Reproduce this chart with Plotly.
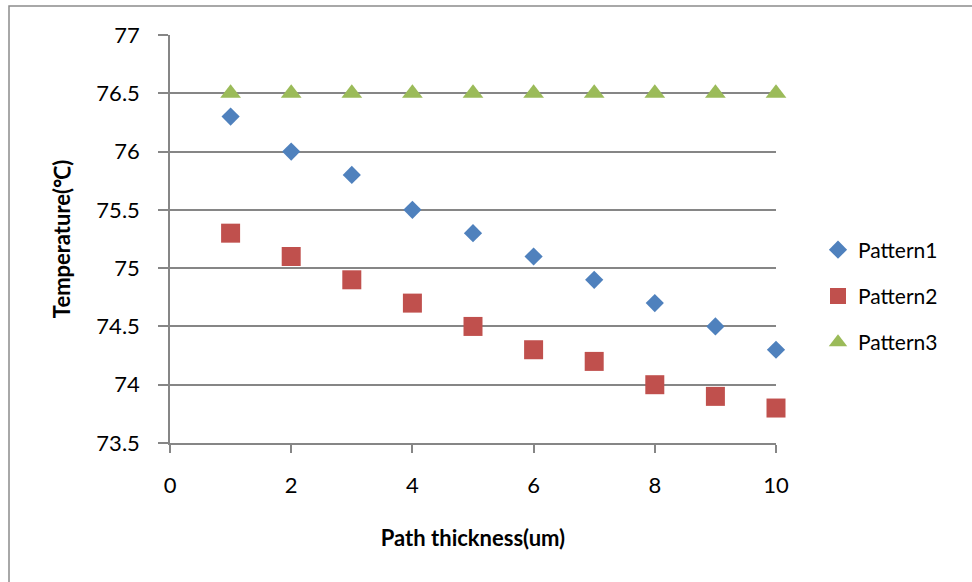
import plotly.graph_objects as go

x_vals = [1, 2, 3, 4, 5, 6, 7, 8, 9, 10]
pattern1 = [76.3, 76.0, 75.8, 75.5, 75.3, 75.1, 74.9, 74.7, 74.5, 74.3]
pattern2 = [75.3, 75.1, 74.9, 74.7, 74.5, 74.3, 74.2, 74.0, 73.9, 73.8]
pattern3 = [76.5, 76.5, 76.5, 76.5, 76.5, 76.5, 76.5, 76.5, 76.5, 76.5]
series_names = ["Pattern1", "Pattern2", "Pattern3"]
x_ticks = [0, 2, 4, 6, 8, 10]
y_ticks = [73.5, 74, 74.5, 75, 75.5, 76, 76.5, 77]
y_tick_labels = ["73.5", "74", "74.5", "75", "75.5", "76", "76.5", "77"]

W, H = 972, 582
L, R, T, B = 170, 196, 35, 139
FONT = "Lato, 'Open Sans', sans-serif"

fig = go.Figure()
styles = [
    dict(symbol="diamond", color="#4F81BD", size=14),
    dict(symbol="square", color="#C0504D", size=19),
    dict(symbol="triangle-up", color="#9BBB59", size=18),
]
for name, ys, st in zip(series_names, [pattern1, pattern2, pattern3], styles):
    fig.add_trace(go.Scatter(
        x=x_vals, y=ys, mode="markers", name=name, legendgroup=name,
        cliponaxis=False,
        marker=dict(symbol=st["symbol"], color=st["color"], size=st["size"],
                    line=dict(width=0)),
    ))

pw = W - L - R
ph = H - T - B
# outer chart border (left and top edges visible)
fig.add_shape(type="rect", xref="paper", yref="paper",
              x0=(9 - L) / pw, x1=(990 - L) / pw,
              y0=-(600 - (H - B)) / ph, y1=1 + (T - 6) / ph,
              line=dict(color="#8c8c8c", width=1.5), fillcolor="rgba(0,0,0,0)",
              layer="below")

fig.update_layout(
    width=W, height=H,
    margin=dict(l=L, r=R, t=T, b=B),
    paper_bgcolor="white", plot_bgcolor="white",
    font=dict(family=FONT, color="#000000", size=22),
    showlegend=True,
    legend=dict(x=1 + (818 - (W - R)) / pw, y=1 - (296 - T) / ph,
                xanchor="left", yanchor="middle",
                font=dict(size=21, family=FONT), itemsizing="trace",
                tracegroupgap=16, bgcolor="rgba(0,0,0,0)", itemwidth=30),
)
fig.update_xaxes(
    range=[0, 10], tickvals=x_ticks, showgrid=False, zeroline=False,
    showline=True, linecolor="#868686", linewidth=1.5,
    ticks="outside", ticklen=8, tickcolor="#868686", tickwidth=1.5,
    tickfont=dict(size=22, family=FONT), ticklabelstandoff=14,
    title=dict(text="Path thickness(um)", font=dict(size=22, family=FONT, weight="bold"), standoff=33),
)
fig.update_yaxes(
    range=[73.5, 77], tickvals=y_ticks, ticktext=y_tick_labels,
    showgrid=True, gridcolor="#868686", gridwidth=1.5, zeroline=False,
    showline=True, linecolor="#868686", linewidth=1.5,
    ticks="outside", ticklen=10, tickcolor="#868686", tickwidth=1.5,
    tickfont=dict(size=22, family=FONT), ticklabelstandoff=14,
    title=dict(text="Temperature(℃)", font=dict(size=22, family=FONT, weight="bold"), standoff=20),
)

fig.write_html("out.html")
